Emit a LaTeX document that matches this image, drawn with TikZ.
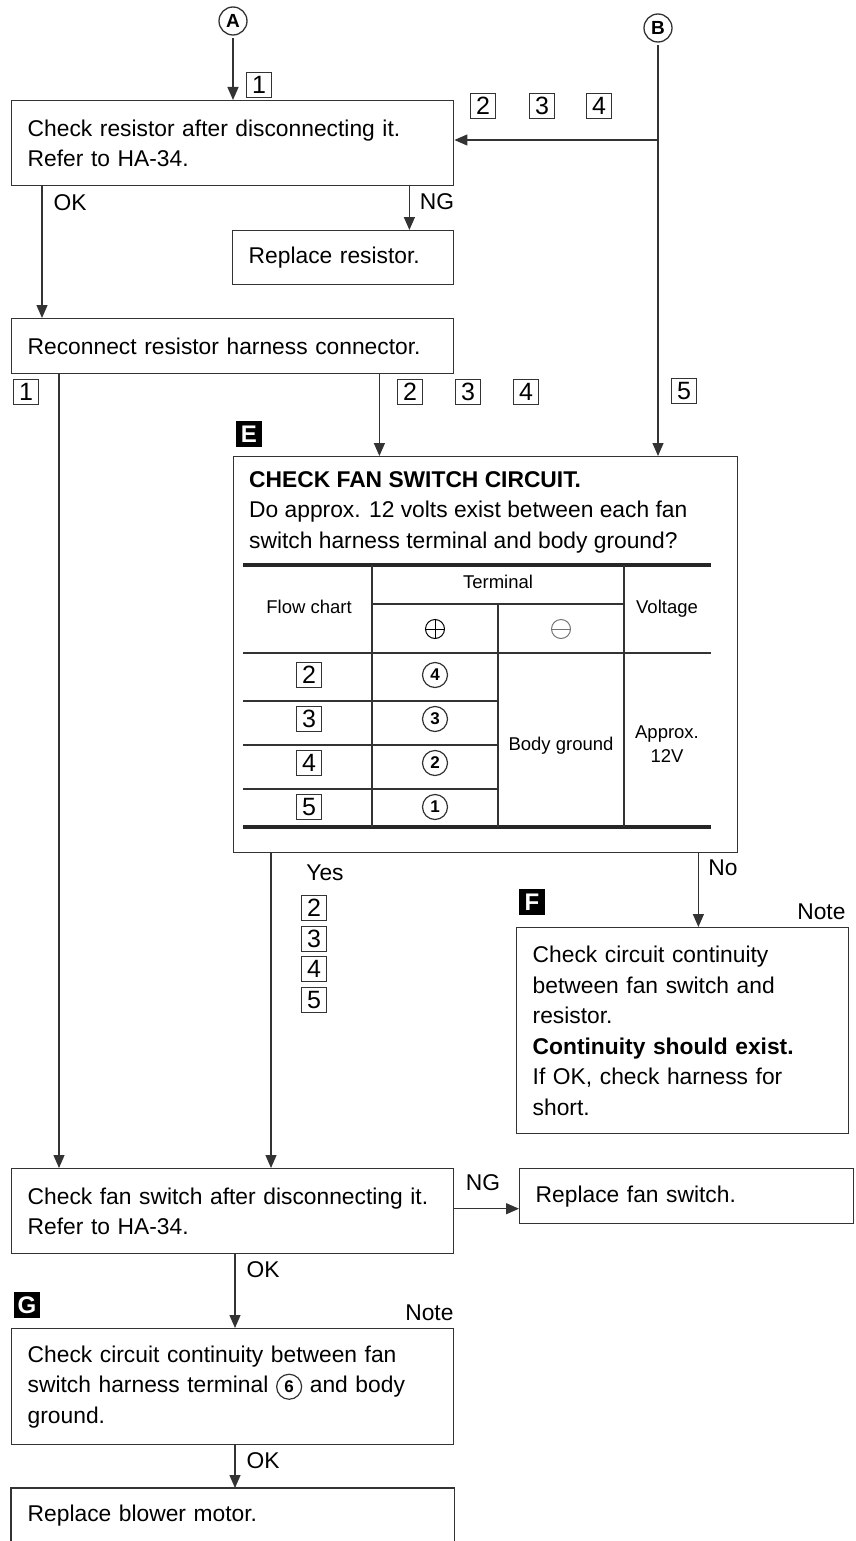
\documentclass[tikz,border=0pt]{standalone}
\usepackage{fontspec}
\setmainfont{Liberation Sans}
\usetikzlibrary{arrows.meta,positioning}
\definecolor{linecol}{gray}{0.2}
\tikzset{circnum/.style={circle, draw=linecol, line width=1.2pt, minimum size=25pt, inner sep=0pt, font=\fontsize{17}{17}\selectfont\bfseries}}
\newcommand\cnum[1]{\tikz[baseline=(cn.base)]\node[circnum] (cn) {#1};}
\begin{document}
\begin{tikzpicture}[
  x=1pt, y=-1pt,
  every node/.style={font=\fontsize{22.8}{30.5}\selectfont},
  stepbox/.style 2 args={draw=linecol, line width=1.4pt, anchor=north west, inner xsep=16pt, inner ysep=0pt, align=left, text width=#1, minimum height=#2},
  numbox/.style={draw=linecol, line width=0.7pt, minimum size=25pt, inner sep=0pt, font=\fontsize{25}{25}\selectfont},
  portcirc/.style={circle, draw=linecol, line width=1.3pt, minimum size=28pt, inner sep=0pt, outer sep=3pt, font=\fontsize{19}{19}\selectfont\bfseries},
  badge/.style={fill=black, text=white, minimum size=26pt, inner sep=0pt, font=\fontsize{24}{24}\selectfont\bfseries},
  tabtext/.style={font=\fontsize{18.5}{24}\selectfont},
  tabline/.style={draw=linecol, line width=1.3pt},
  tabthick/.style={draw=black!85, line width=3.8pt},
  pole/.style={circle, draw=#1, line width=1pt, minimum size=19pt, inner sep=0pt},
  arw/.style={draw=linecol, line width=1.3pt, -{Triangle[length=13pt,width=11pt]}}
]
\useasboundingbox (0,0) rectangle (856,1541);

% entry points
\node[portcirc] (A) at (233,21) {A};
\node[portcirc] (B) at (658,28) {B};

% boxes
\node[stepbox={410pt}{85pt}] (resck) at (11,100) {Check resistor after disconnecting it.\\Refer to HA-34.};
\node[stepbox={189pt}{54pt}] (rplres) at (232,230) {Replace resistor.};
\node[stepbox={410pt}{55pt}] (recon) at (11,318) {Reconnect resistor harness connector.};
\node[stepbox={472pt}{396pt}] (chk) at (233,456) {};
\node[stepbox={300pt}{206pt}] (cont) at (516,927) {Check circuit continuity\\between fan switch and\\resistor.\\\textbf{Continuity should exist.}\\If OK, check harness for\\short.};
\node[stepbox={410pt}{85pt}] (fansw) at (11,1168) {Check fan switch after disconnecting it.\\Refer to HA-34.};
\node[stepbox={302pt}{55pt}] (rplfan) at (519,1168) {Replace fan switch.};
\node[stepbox={410pt}{116pt}] (gnd) at (11,1328) {Check circuit continuity between fan\\switch harness terminal \cnum{6} and body\\ground.};
\node[stepbox={410pt}{53pt}, draw=none] (blower) at (11,1488) {Replace blower motor.};
\draw[draw=linecol, line width=1.4pt] (blower.south west) |- (blower.north east) -- (blower.south east);

% badges
\node[badge] (tagE) at (249,434) {E};
\node[badge] (tagF) at (532,902) {F};
\node[badge] (tagG) at (27,1305) {G};

% fan switch circuit check
\node[anchor=north west, align=left, inner sep=0pt] (chkhd) at (249,471) {\textbf{CHECK FAN SWITCH CIRCUIT.}\\Do approx. 12 volts exist between each fan\\switch harness terminal and body ground?};
\draw[tabthick] (243,565) -- (711,565);
\draw[tabthick] (243,827) -- (711,827);
\draw[tabline] (372,565) -- (372,827) (498,604) -- (498,827) (624,565) -- (624,827);
\draw[tabline] (372,604) -- (624,604);
\draw[tabline] (243,653) -- (711,653);
\foreach \ry in {701,745,789}
  \draw[tabline] (243,\ry) -- (498,\ry);
\node[tabtext] (tmhd) at (498,582) {Terminal};
\node[tabtext] (fchd) at (309,607) {Flow chart};
\node[tabtext] (vhd) at (667,609) {Voltage};
\node[pole=black] (plus) at (435,629) {};
\draw[line width=1pt] (plus.west) -- (plus.east) (plus.north) -- (plus.south);
\node[pole=black!55] (minus) at (561,629) {};
\draw[black!55, line width=1pt] (minus.west) -- (minus.east);
\foreach \fc/\tm/\ry in {2/4/675, 3/3/719, 4/2/763, 5/1/807} {
  \node[numbox] (fc\fc) at (309,\ry) {\fc};
  \node[circnum] (tm\tm) at (435,\ry) {\tm};
}
\node[tabtext] (bgnd) at (561,746) {Body ground};
\node[tabtext, align=center] (volt) at (667,744) {Approx.\\12V};

% flow chart numbers
\node[numbox] (top1) at (259,85) {1};
\foreach \k/\kx in {2/483, 3/542, 4/599}
  \node[numbox] (bn\k) at (\kx,106) {\k};
\node[numbox] (mid1) at (26,392) {1};
\foreach \k/\kx in {2/410, 3/468, 4/526}
  \node[numbox] (mid\k) at (\kx,392) {\k};
\node[numbox] (mid5) at (684,391) {5};
\foreach \k/\ky in {2/908, 3/939, 4/969, 5/1000}
  \node[numbox] (yes\k) at (314,\ky) {\k};

% labels
\node (okA) at (70,203) {OK};
\node (ngA) at (437,202) {NG};
\node (yesl) at (325,873) {Yes};
\node (nol) at (723,868) {No};
\node[anchor=east] (noteF) at (849,912) {Note};
\node (ngB) at (483,1183) {NG};
\node (okB) at (263,1270) {OK};
\node[anchor=east] (noteG) at (457,1313) {Note};
\node (okC) at (263,1461) {OK};

% connectors
\coordinate (bsplit) at (658,140);
\draw[arw] (A) -- (A |- resck.north);
\draw[arw] (B) -- (B |- chk.north);
\draw[arw] (bsplit) -- (bsplit -| resck.east);
\draw[arw] ([xshift=31pt]resck.south west) -- ([xshift=31pt]recon.north west);
\draw[arw] ([xshift=-45pt]resck.south east) -- ([xshift=-45pt]resck.south east |- rplres.north);
\draw[arw] ([xshift=48pt]recon.south west) -- ([xshift=48pt]fansw.north west);
\draw[arw] ([xshift=-75pt]recon.south east) -- ([xshift=-75pt]recon.south east |- chk.north);
\draw[arw] ([xshift=38pt]chk.south west) -- ([xshift=38pt]chk.south west |- fansw.north);
\draw[arw] ([xshift=-40pt]chk.south east) -- ([xshift=-40pt]chk.south east |- cont.north);
\draw[arw] ([yshift=2.5pt]fansw.east) -- ([yshift=2.5pt]fansw.east -| rplfan.west);
\draw[arw] ([xshift=224pt]fansw.south west) -- ([xshift=224pt]gnd.north west);
\draw[arw] ([xshift=224pt]gnd.south west) -- ([xshift=224pt]blower.north west);
\end{tikzpicture}
\end{document}
